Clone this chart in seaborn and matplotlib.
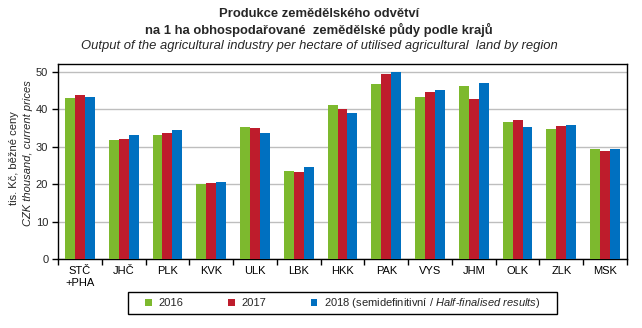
import numpy as np
import pandas as pd
import matplotlib
matplotlib.use("Agg")
import matplotlib.pyplot as plt
import seaborn as sns
from matplotlib.patches import Patch, Rectangle
from matplotlib.ticker import FixedLocator

regions = ["STČ\n+PHA", "JHČ", "PLK", "KVK", "ULK", "LBK", "HKK", "PAK", "VYS", "JHM", "OLK", "ZLK", "MSK"]
v2016 = [42.9, 31.7, 33.1, 20.0, 35.2, 23.5, 41.0, 46.6, 43.2, 46.1, 36.5, 34.7, 29.3]
v2017 = [43.7, 32.0, 33.6, 20.3, 34.9, 23.2, 40.0, 49.3, 44.5, 42.7, 37.0, 35.5, 28.8]
v2018 = [43.2, 33.1, 34.4, 20.6, 33.6, 24.5, 38.9, 50.0, 45.0, 46.9, 35.2, 35.8, 29.3]
years = ["2016", "2017", "2018"]
colors = ["#7DB92E", "#BE1C2C", "#0070C0"]

df = pd.DataFrame({
    "region": regions * 3,
    "year": sum([[y] * len(regions) for y in years], []),
    "value": v2016 + v2017 + v2018,
})

sns.set_theme(style="white")
plt.rcParams["font.family"] = ["Liberation Sans", "DejaVu Sans"]
plt.rcParams["mathtext.fontset"] = "custom"
plt.rcParams["mathtext.rm"] = "Liberation Sans"
plt.rcParams["mathtext.it"] = "Liberation Sans:italic"

fig = plt.figure(figsize=(6.42, 3.28), dpi=100)
ax = fig.add_axes([58/642, 1-259.3/328, (627-58)/642, (259.3-64)/328])

sns.barplot(data=df, x="region", y="value", hue="year", palette=colors,
            width=0.68, saturation=1, ax=ax, legend=False, zorder=3, linewidth=0)

ax.set_ylim(0, 52)
ax.set_xlim(-0.5, len(regions) - 0.5)
ax.yaxis.set_major_locator(FixedLocator([0, 10, 20, 30, 40, 50]))
ax.grid(axis="y", color="#BEBEBE", linewidth=1, zorder=0)
ax.set_axisbelow(True)
for s in ax.spines.values():
    s.set_color("black")
    s.set_linewidth(1)
    s.set_visible(True)
ax.set_xlabel("")
ax.set_ylabel("")
ax.tick_params(axis="x", which="major", length=0, labelsize=8, pad=5, labelcolor="black")
ax.xaxis.set_minor_locator(FixedLocator(np.arange(-0.5, len(regions), 1.0)))
ax.tick_params(axis="x", which="minor", length=4, width=1, color="black", direction="out", bottom=True)
ax.tick_params(axis="y", which="major", length=4, width=1, color="black", direction="out",
               left=True, labelsize=8, pad=3)

fig.text(0.497, 1-14/328, "Produkce zemědělského odvětví", ha="center", va="center",
         fontsize=9.4, fontweight="bold")
fig.text(0.497, 1-30/328, "na 1 ha obhospodařované  zemědělské půdy podle krajů", ha="center",
         va="center", fontsize=9.4, fontweight="bold")
fig.text(0.497, 1-46/328, "Output of the agricultural industry per hectare of utilised agricultural  land by region",
         ha="center", va="center", fontsize=9.4, style="italic")

fig.text(14/642, 1-158/328, "tis. Kč, běžné ceny", rotation=90, ha="center", va="center", fontsize=8)
fig.text(28/642, 1-153/328, "CZK thousand, current prices", rotation=90, ha="center", va="center",
         fontsize=8, style="italic")

handles = [Patch(facecolor=c, edgecolor="none") for c in colors]
labels = ["2016", "2017", r"2018 (semidefinitivní / $\it{Half}$-$\it{finalised\ results}$)"]
leg = fig.legend(handles, labels, loc="center", bbox_to_anchor=(343/642, 1-303/328), ncol=3,
                 fontsize=8, frameon=False,
                 handlelength=0.6, handleheight=0.6, handletextpad=0.6, columnspacing=4.0,
                 borderpad=0.45, borderaxespad=0)
fig.patches.append(Rectangle((128/642, 1-314/328), (557-128)/642, 22/328,
                             transform=fig.transFigure, fill=False, edgecolor="black",
                             linewidth=1, figure=fig))

fig.savefig("out.png", dpi=100)
